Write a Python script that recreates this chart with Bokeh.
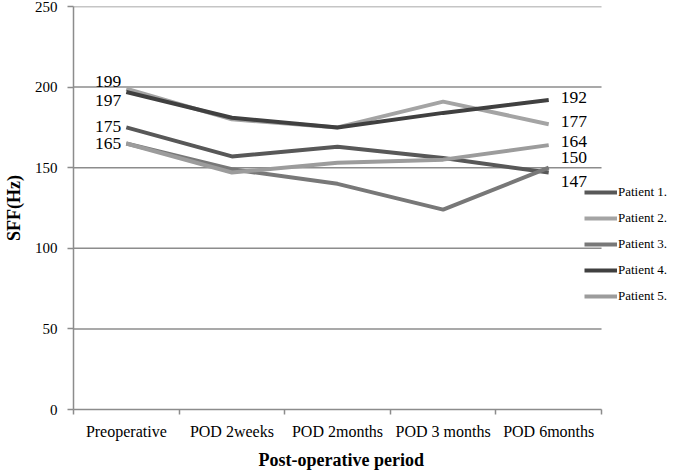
from bokeh.plotting import figure
from bokeh.models import FixedTicker, Legend, LegendItem, ColumnDataSource, Title
from bokeh.embed import file_html
from bokeh.resources import INLINE

periods = ["Preoperative", "POD 2weeks", "POD 2months", "POD 3 months", "POD 6months"]
patients = ["Patient 1.", "Patient 2.", "Patient 3.", "Patient 4.", "Patient 5."]
patient1 = [175, 157, 163, 156, 147]
patient2 = [199, 180, 175, 191, 177]
patient3 = [165, 149, 140, 124, 150]
patient4 = [197, 181, 175, 184, 192]
patient5 = [165, 147, 153, 155, 164]
series = [patient1, patient2, patient3, patient4, patient5]
y_ticks = [0, 50, 100, 150, 200, 250]

colors = ["#585858", "#a4a4a4", "#787878", "#404040", "#9c9c9c"]
# label offsets in screen pixels (style only)
start_offsets = {1: -7, 3: 9, 0: -1, 2: 0}   # patient index -> y offset
end_offsets = [9, -3, -10, -2, -4]

FONT = "Liberation Serif"
GRID = "#8c8c8c"

n = len(periods)
LEFT = 64
x_end = n * (669 - LEFT) / 536  # extra room on the right for the legend

p = figure(width=669, height=474, x_range=(0, x_end), y_range=(0, 250),
           output_backend="svg", toolbar_location=None,
           min_border_left=LEFT, min_border_right=0, min_border_top=6, min_border_bottom=61)
p.outline_line_color = None
p.background_fill_color = "white"

xs = [i + 0.5 for i in range(n)]

# horizontal gridlines limited to the category span
gy = y_ticks[1:]
p.segment(x0=[0] * len(gy), x1=[n] * len(gy), y0=gy, y1=gy, line_color=GRID, line_width=1.5)

renderers = []
for vals, col in zip(series, colors):
    r = p.line(xs, vals, line_color=col, line_width=4)
    renderers.append(r)

# start labels
sx, sy, st, so = [], [], [], []
for idx, off in start_offsets.items():
    sx.append(xs[0]); sy.append(series[idx][0]); st.append(str(series[idx][0])); so.append(off)
p.text(x="x", y="y", text="t", y_offset="o",
       source=ColumnDataSource(dict(x=sx, y=sy, t=st, o=so)),
       x_offset=-5, text_align="right", text_baseline="middle",
       text_font=FONT, text_font_size="17.5px", text_color="black")

# end labels
ex, ey, et, eo = [], [], [], []
for i, vals in enumerate(series):
    ex.append(xs[-1]); ey.append(vals[-1]); et.append(str(vals[-1])); eo.append(end_offsets[i])
p.text(x="x", y="y", text="t", y_offset="o",
       source=ColumnDataSource(dict(x=ex, y=ey, t=et, o=eo)),
       x_offset=12, text_align="left", text_baseline="middle",
       text_font=FONT, text_font_size="17.5px", text_color="black")

# axes
xa = p.xaxis[0]
xa.bounds = (0, n)
xa.ticker = FixedTicker(ticks=xs, minor_ticks=list(range(n + 1)))
xa.major_label_overrides = {x: lab for x, lab in zip(xs, periods)}
xa.major_tick_line_color = None
xa.major_tick_out = 0
xa.major_tick_in = 0
xa.minor_tick_out = 5
xa.minor_tick_in = 0
xa.minor_tick_line_color = GRID
xa.minor_tick_line_width = 1.5
xa.axis_line_color = GRID
xa.axis_line_width = 1.5
xa.major_label_standoff = 8
xa.major_label_text_font = FONT
xa.major_label_text_font_size = "16px"
xa.major_label_text_color = "black"

# x-axis title, centred under the category span (not the wider frame)
xtitle = Title(text="Post-operative period", align="left", offset=185, standoff=10,
               text_font=FONT, text_font_style="bold", text_font_size="18px",
               text_color="black")
p.add_layout(xtitle, "below")

ya = p.yaxis[0]
ya.ticker = FixedTicker(ticks=y_ticks)
ya.minor_tick_line_color = None
ya.major_tick_out = 6
ya.major_tick_in = 0
ya.major_tick_line_color = GRID
ya.major_tick_line_width = 1.5
ya.axis_line_color = GRID
ya.axis_line_width = 1.5
ya.major_label_standoff = 10
ya.major_label_text_font = FONT
ya.major_label_text_font_size = "15px"
ya.major_label_text_color = "black"
ya.axis_label = "SFF(Hz)"
ya.axis_label_text_font = FONT
ya.axis_label_text_font_style = "bold"
ya.axis_label_text_font_size = "18px"
ya.axis_label_standoff = 8
ya.axis_label_text_color = "black"

p.xgrid.visible = False
p.ygrid.visible = False

legend = Legend(items=[LegendItem(label=name, renderers=[r]) for name, r in zip(patients, renderers)],
                location=(511, 103), orientation="vertical",
                glyph_width=33, glyph_height=20, label_height=20, label_standoff=1,
                spacing=6, padding=0, margin=0,
                border_line_color=None, background_fill_alpha=0,
                label_text_font=FONT, label_text_font_size="13px", label_text_color="black")
p.add_layout(legend, "center")

open("out.html", "w").write(file_html(p, INLINE))
